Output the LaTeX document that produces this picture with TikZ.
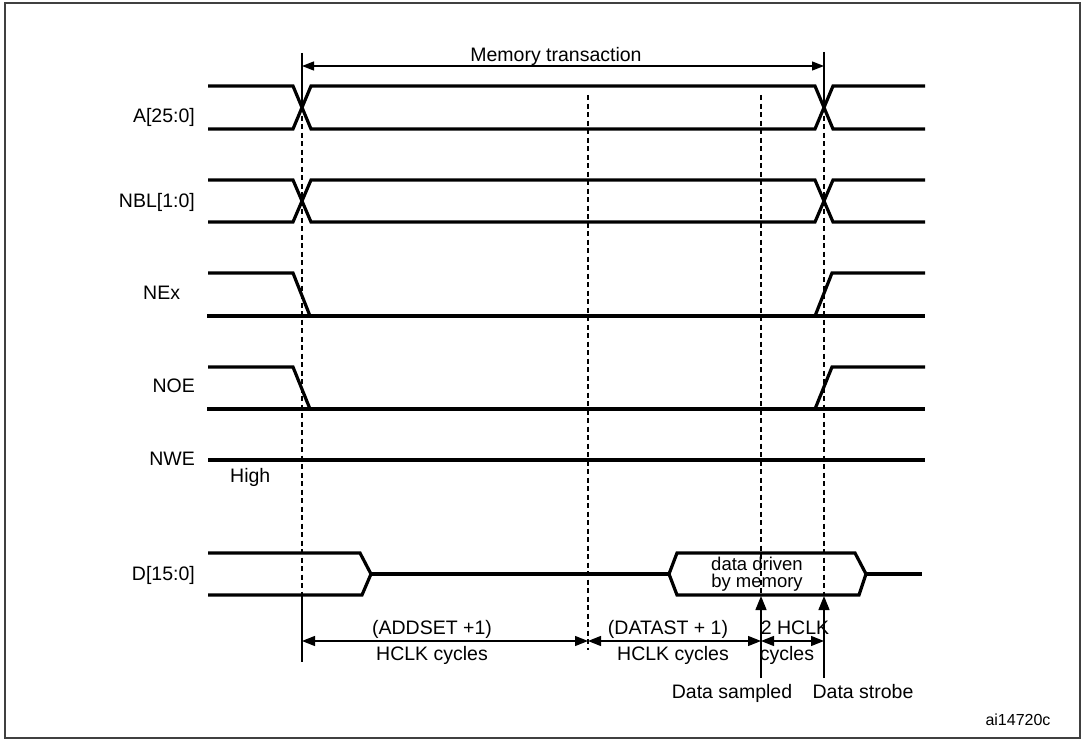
\documentclass[tikz,border=0pt]{standalone}
\usepackage{fontspec}
\setmainfont{Liberation Sans}
\usetikzlibrary{arrows.meta}
\begin{document}
\begin{tikzpicture}[x=1bp,y=-1bp,
  sig/.style={line width=3.2bp, line join=miter},
  guide/.style={line width=1.3bp, dash pattern=on 5bp off 3.5bp},
  ext/.style={line width=1.3bp},
  dim/.style={line width=1.3bp, {Triangle[length=13bp,width=10bp]}-{Triangle[length=13bp,width=10bp]}},
  upar/.style={line width=1.3bp, -{Triangle[length=14bp,width=11bp]}},
  lbl/.style={font=\fontsize{19.5bp}{23bp}\selectfont, inner sep=0pt},
  tight/.style={font=\fontsize{18.5bp}{16bp}\selectfont, inner sep=0pt},
  small/.style={font=\fontsize{16bp}{19bp}\selectfont, inner sep=0pt},
  ]
\useasboundingbox (0,0) rectangle (1085,741);
\draw[line width=1.5bp, black!75] (5,3) rectangle (1080,738);

% signal names
\node[lbl, anchor=base east] (nA)   at (195,122) {A[25:0]};
\node[lbl, anchor=base east] (nNBL) at (195,207) {NBL[1:0]};
\node[lbl, anchor=base west] (nNEx) at (143,299) {NEx};
\node[lbl, anchor=base east] (nNOE) at (195,392) {NOE};
\node[lbl, anchor=base east] (nNWE) at (195,465) {NWE};
\node[lbl, anchor=base west] (nHigh) at (230,482) {High};
\node[lbl, anchor=base east] (nD)   at (195,580) {D[15:0]};

% A[25:0]
\draw[sig] (208,86)--(293,86)--(311,129)--(815,129)--(833,86)--(925,86);
\draw[sig] (208,129)--(293,129)--(311,86)--(815,86)--(833,129)--(925,129);
% NBL[1:0]
\draw[sig] (208,180)--(293,180)--(311,222)--(815,222)--(833,180)--(925,180);
\draw[sig] (208,222)--(293,222)--(311,180)--(815,180)--(833,222)--(925,222);
% NEx
\draw[sig] (208,273)--(293,273)--(310,316);
\draw[sig] (207,316)--(925,316);
\draw[sig] (815,316)--(832,273)--(925,273);
% NOE
\draw[sig] (208,367)--(293,367)--(310,409);
\draw[sig] (207,409)--(925,409);
\draw[sig] (815,409)--(832,367)--(925,367);
% NWE
\draw[sig] (208,460)--(925,460);
% D[15:0]
\draw[sig] (208,553)--(360,553)--(371,574)--(362,595)--(208,595);
\draw[sig] (371,574)--(669,574);
\draw[sig] (669,574)--(677,553)--(855,553)--(866,574)--(859,595)--(677,595)--cycle;
\draw[sig] (866,574)--(922,574);
\node[tight, anchor=base] (dd1) at (757,570) {data driven};
\node[tight, anchor=base] (dd2) at (757,587) {by memory};

% guide lines
\draw[ext] (302,53)--(302,107);
\draw[ext] (824,52)--(824,107);
\draw[guide] (302,107)--(302,597);
\draw[ext] (302,597)--(302,662);
\draw[guide] (824,107)--(824,596);
\draw[guide] (588,95)--(588,650);
\draw[guide] (761,95)--(761,596);

% memory transaction
\coordinate (t0) at (302,66);
\coordinate (t1) at (824,66);
\draw[line width=1.3bp, {Triangle[length=12bp,width=9bp]}-{Triangle[length=12bp,width=9bp]}] (t0)--(t1);
\node[lbl, anchor=base] (mt) at (556,62) {Memory transaction};

% bottom dimensions
\coordinate (b0) at (302,641);
\coordinate (b1) at (588,641);
\coordinate (b2) at (761,641);
\coordinate (b3) at (824,641);
\draw[dim] (b0)--(b1);
\draw[dim] (b1)--(b2);
\draw[dim] (b2)--(b3);
\node[lbl, anchor=base] (add1) at (432,634) {(ADDSET +1)};
\node[lbl, anchor=base] (add2) at (432,660) {HCLK cycles};
\node[lbl, anchor=base] (dat1) at (668,634) {(DATAST + 1)};
\node[lbl, anchor=base] (dat2) at (673,660) {HCLK cycles};
\node[lbl, anchor=base] (hc1) at (795,634) {2 HCLK};
\node[lbl, anchor=base] (hc2) at (787,660) {cycles};

% sample / strobe arrows
\coordinate (s0) at (761,678);
\coordinate (s1) at (761,596);
\coordinate (r0) at (824,678);
\coordinate (r1) at (824,596);
\draw[upar] (s0)--(s1);
\draw[upar] (r0)--(r1);
\node[lbl, anchor=base] (ds) at (732,698) {Data sampled};
\node[lbl, anchor=base] (dst) at (863,698) {Data strobe};

\node[small, anchor=base] (ai) at (1018,725) {ai14720c};
\end{tikzpicture}
\end{document}
